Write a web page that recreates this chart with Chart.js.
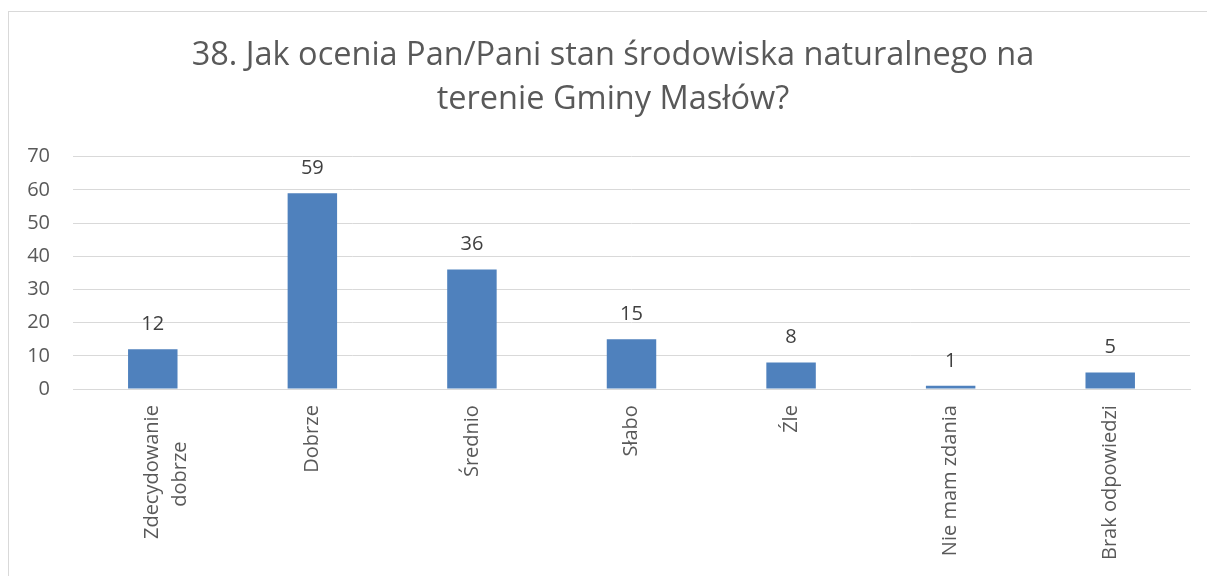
<!DOCTYPE html>
<html>
<head>
<meta charset="utf-8">
<script src="https://cdn.jsdelivr.net/npm/chart.js@4.4.1/dist/chart.umd.min.js"></script>
<style>
  html, body { margin: 0; padding: 0; background: #fff; overflow: hidden; }
  #box {
    position: absolute; left: 8px; top: 11px;
    width: 1210px; height: 580px;
    border: 1px solid #d9d9d9; box-sizing: border-box;
  }
</style>
</head>
<body>
<div id="box"><canvas id="chart"></canvas></div>
<script>
// categories and answers
const categories = [
    ['Zdecydowanie', 'dobrze'],
    'Dobrze',
    'Średnio',
    'Słabo',
    'Źle',
    'Nie mam zdania',
    'Brak odpowiedzi'
];
const answers = [12, 59, 36, 15, 8, 1, 5];
const titleLines = ['38. Jak ocenia Pan/Pani stan środowiska naturalnego na', 'terenie Gminy Masłów?'];
const yTicks = [0, 10, 20, 30, 40, 50, 60, 70];

const textColor = '#595959';
const barColor = '#4f81bd';
const gridColor = '#d9d9d9';
const fontFamily = '"Open Sans", "Noto Sans", sans-serif';
const labelFont = '20px ' + fontFamily;

// rotated multi-line labels are right aligned by Chart.js;
// pad the shorter lines with spaces so they look centred like in Excel
const measureCtx = document.createElement('canvas').getContext('2d');
measureCtx.font = labelFont;
function centreLines(label) {
    if (!Array.isArray(label)) return label;
    const widths = label.map(l => measureCtx.measureText(l).width);
    const maxW = Math.max(...widths);
    const space = measureCtx.measureText(' ').width;
    return label.map((l, i) => l + ' '.repeat(Math.round((maxW - widths[i]) / 2 / space)));
}

// value labels above each bar
const valueLabels = {
    id: 'valueLabels',
    afterDatasetsDraw(chart) {
        const ctx = chart.ctx;
        const meta = chart.getDatasetMeta(0);
        ctx.save();
        ctx.font = labelFont;
        ctx.fillStyle = '#404040';
        ctx.textAlign = 'center';
        ctx.textBaseline = 'middle';
        meta.data.forEach((bar, i) => {
            ctx.fillText(String(answers[i]), bar.x, bar.y - 25);
        });
        ctx.restore();
    }
};

new Chart(document.getElementById('chart'), {
    type: 'bar',
    data: {
        labels: categories,
        datasets: [{
            data: answers,
            backgroundColor: barColor,
            borderWidth: 0,
            barPercentage: 0.62,
            categoryPercentage: 0.5
        }]
    },
    options: {
        responsive: true,
        maintainAspectRatio: false,
        animation: false,
        layout: { padding: { left: 14, right: 14, top: 0, bottom: 14 } },
        plugins: {
            legend: { display: false },
            tooltip: { enabled: false },
            title: {
                display: true,
                text: titleLines,
                color: textColor,
                font: { family: fontFamily, size: 32.5, weight: 'normal', lineHeight: 1.35 },
                padding: { top: 22, bottom: 35 }
            }
        },
        scales: {
            y: {
                min: 0,
                max: 70,
                afterBuildTicks: (axis) => { axis.ticks = yTicks.map(v => ({ value: v })); },
                afterFit: (axis) => { axis.width = 50; },
                border: { display: false },
                grid: { color: gridColor, lineWidth: 1, drawTicks: false },
                ticks: {
                    color: textColor,
                    padding: 23,
                    font: { family: fontFamily, size: 20 }
                }
            },
            // empty spacer on the right so the title stays centred in the frame
            yRight: {
                axis: 'y',
                position: 'right',
                afterFit: (axis) => { axis.width = 13; },
                border: { display: false },
                grid: { display: false },
                ticks: { display: false }
            },
            x: {
                border: { color: gridColor },
                grid: { display: false, drawTicks: false },
                ticks: {
                    color: textColor,
                    minRotation: 90,
                    maxRotation: 90,
                    padding: 16,
                    autoSkip: false,
                    callback: function(value, index) { return centreLines(categories[index]); },
                    font: { family: fontFamily, size: 20, lineHeight: 1.4 }
                }
            }
        }
    },
    plugins: [valueLabels]
});
</script>
</body>
</html>
